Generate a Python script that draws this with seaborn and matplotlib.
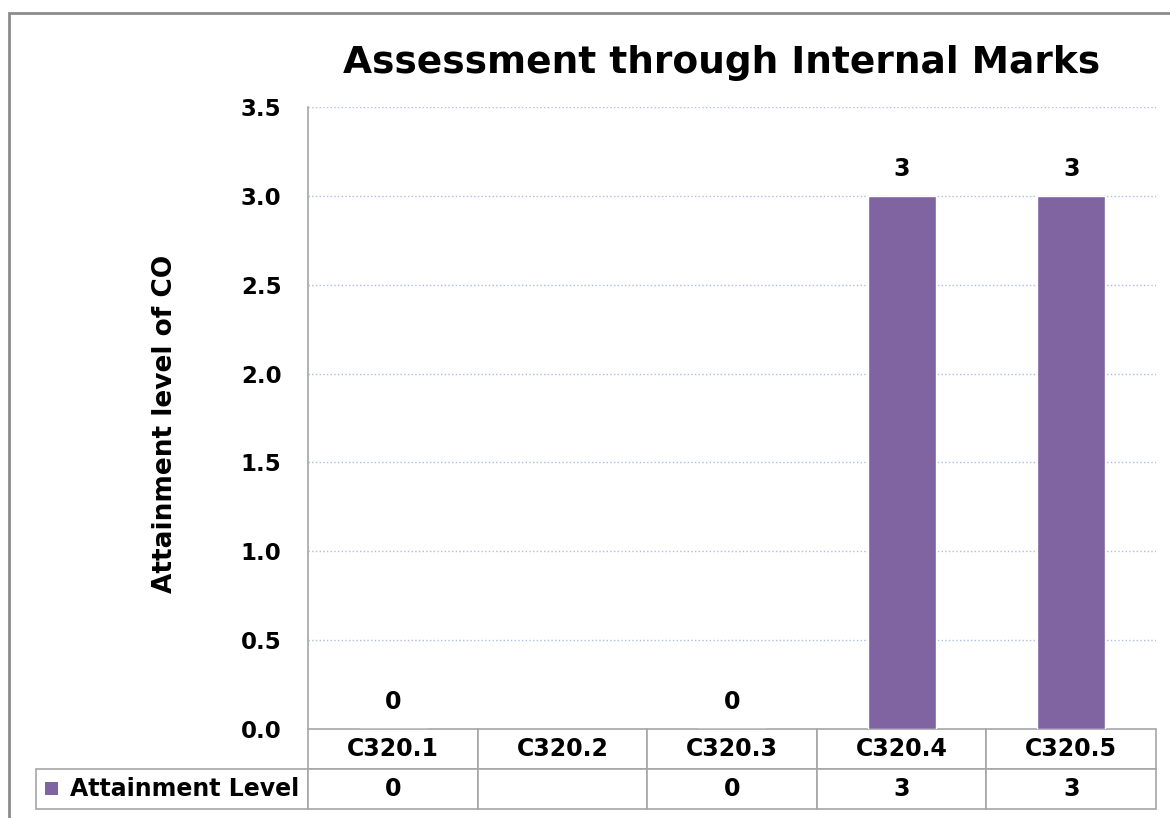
import matplotlib
matplotlib.use("Agg")
import matplotlib.pyplot as plt
import matplotlib.patches as mpatches
import numpy as np
import pandas as pd
import seaborn as sns

# Chart data
categories = ["C320.1", "C320.2", "C320.3", "C320.4", "C320.5"]
attainment = [0, np.nan, 0, 3, 3]  # C320.2 has no value
series_name = "Attainment Level"
title = "Assessment through Internal Marks"
ylabel = "Attainment level of CO"
yticks = [0.0, 0.5, 1.0, 1.5, 2.0, 2.5, 3.0, 3.5]

bar_color = "#8064A2"
line_gray = "#a6a6a6"

df = pd.DataFrame({"CO": categories, "Level": attainment})

sns.set_theme(style="white")
plt.rcParams["font.family"] = ["DejaVu Sans"]
plt.rcParams["text.color"] = "black"
plt.rcParams["axes.labelcolor"] = "black"
plt.rcParams["ytick.color"] = "black"

W, H = 1170, 818
fig = plt.figure(figsize=(W / 100, H / 100), dpi=100)
fig.patch.set_facecolor("white")

# plot area in pixels: x 308..1156, y 107..729
ax = fig.add_axes([308 / W, 1 - 729 / H, 848 / W, 622 / H])

sns.barplot(data=df, x="CO", y="Level", order=categories, color=bar_color,
            width=0.4, saturation=1, ax=ax, zorder=3)

# Data labels above bars
for cont in ax.containers:
    labels = ["" if np.isnan(v) else f"{v:g}" for v in cont.datavalues]
    ax.bar_label(cont, labels=labels, padding=11, fontsize=17,
                 fontweight="bold", color="black")

ax.set_ylim(0, 3.5)
ax.set_yticks(yticks)
ax.set_yticklabels([f"{t:.1f}" for t in yticks], fontsize=16.5,
                   fontweight="bold")
ax.tick_params(axis="y", length=0, pad=19)
ax.tick_params(axis="x", length=0, labelbottom=False)
ax.set_xlabel("")
ax.set_ylabel(ylabel, fontsize=19, fontweight="bold")
ax.yaxis.set_label_coords(-0.153, 0.49)

ax.yaxis.grid(True, linestyle=":", color="#a9bde3", linewidth=1.0, zorder=0)
ax.xaxis.grid(False)
for side in ["top", "right", "bottom"]:
    ax.spines[side].set_visible(False)
ax.spines["left"].set_color(line_gray)
ax.spines["left"].set_linewidth(1.2)

# Data table under the plot
label_w = 272 / 848
row_h = 80 / 622
cell_text = [[series_name] + ["" if np.isnan(v) else f"{v:g}"
                              for v in attainment]]
tab = ax.table(cellText=cell_text, colLabels=[""] + categories,
               colWidths=[label_w] + [0.2] * len(categories),
               cellLoc="center", colLoc="center",
               bbox=[-label_w, -row_h, 1 + label_w, row_h])
tab.auto_set_font_size(False)
tab.set_fontsize(17)
for (r, c), cell in tab.get_celld().items():
    cell.set_edgecolor(line_gray)
    cell.set_linewidth(1.2)
    cell.get_text().set_fontweight("bold")
    cell.get_text().set_color("black")
    if r == 0 and c == 0:
        cell.visible_edges = ""
    if r == 1 and c == 0:
        cell.PAD = 0.125
        cell.get_text().set_horizontalalignment("left")
        cell.get_text().set_fontsize(17)

# legend key inside the table row label
ax.add_patch(mpatches.Rectangle((-263 / 848, -66 / 622), 13 / 848, 13 / 622,
                                transform=ax.transAxes, clip_on=False,
                                facecolor=bar_color, edgecolor="none"))

fig.text(722 / W, 1 - 63 / H, title, ha="center", va="center",
         fontsize=27, fontweight="bold")

# outer chart border
fig.patches.append(mpatches.Rectangle((9 / W, -0.1), 1.2, 1.1 - 13 / H,
                                      transform=fig.transFigure, fill=False,
                                      edgecolor="#8c8c8c", linewidth=2))

fig.savefig("out.png", dpi=100)
